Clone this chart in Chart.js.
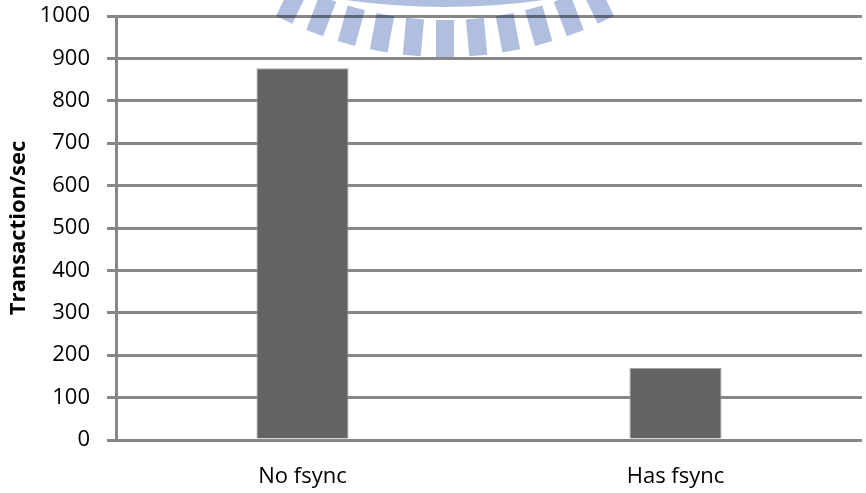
<!DOCTYPE html>
<html>
<head>
<meta charset="utf-8">
<title>Transaction/sec</title>
<script src="https://cdn.jsdelivr.net/npm/chart.js@4/dist/chart.umd.min.js"></script>
<style>
  html, body { margin: 0; padding: 0; background: #fff; }
  #wrap { width: 866px; height: 493px; position: relative; }
</style>
</head>
<body>
<div id="wrap"><canvas id="barChart"></canvas></div>
<script>
// categories and throughput values
const categories = ['No fsync', 'Has fsync'];
const tps = [877, 170];
const yMin = 0;
const yMax = 1000;
const yStep = 100;

const gridGray = '#878787';

// faint seal printed behind the top of the plot
const sealPlugin = {
    id: 'seal',
    afterDraw(chart) {
        const ctx = chart.ctx;
        const cx = 445, cy = -310;
        ctx.save();
        ctx.globalCompositeOperation = 'multiply';
        ctx.fillStyle = '#b0bfe0';
        for (let i = -5; i <= 5; i++) {
            const a = i * 5.2 * Math.PI / 180;
            ctx.save();
            ctx.translate(cx, cy);
            ctx.rotate(-a);
            ctx.fillRect(-9, 330, 18, 37);
            ctx.restore();
        }
        // inner ring
        const cy2 = -693;
        ctx.beginPath();
        ctx.arc(cx, cy2, 700, Math.PI / 2 - 0.3, Math.PI / 2 + 0.3);
        ctx.arc(cx, cy2, 684, Math.PI / 2 + 0.3, Math.PI / 2 - 0.3, true);
        ctx.closePath();
        ctx.fill();
        ctx.restore();
    }
};

const ctx = document.getElementById('barChart').getContext('2d');
new Chart(ctx, {
    type: 'bar',
    data: {
        labels: categories,
        datasets: [{
            data: tps,
            backgroundColor: '#636363',
            borderColor: '#a3a3a3',
            borderWidth: 1,
            categoryPercentage: 1,
            barPercentage: 0.247
        }]
    },
    options: {
        responsive: true,
        maintainAspectRatio: false,
        animation: false,
        layout: {
            autoPadding: false,
            padding: { top: 16, right: 4, left: 0, bottom: 0 }
        },
        plugins: {
            legend: { display: false },
            tooltip: { enabled: false }
        },
        scales: {
            x: {
                grid: { display: false, drawTicks: false },
                border: { display: false },
                ticks: {
                    color: '#000',
                    padding: 24,
                    font: { family: 'Open Sans', size: 22 }
                },
                afterFit(scale) { scale.height = 53; }
            },
            y: {
                min: yMin,
                max: yMax,
                ticks: {
                    stepSize: yStep,
                    color: '#000',
                    padding: 17,
                    font: { family: 'Open Sans', size: 22 },
                    callback: (v) => String(v)
                },
                grid: {
                    color: gridGray,
                    lineWidth: 3,
                    drawTicks: true,
                    tickLength: 9
                },
                border: { color: gridGray, width: 3 },
                title: {
                    display: true,
                    text: 'Transaction/sec',
                    color: '#000',
                    padding: { top: 6, bottom: 0 },
                    font: { family: 'Open Sans', size: 22, weight: 'bold' }
                },
                afterFit(scale) {
                    scale.width = 116;
                    scale.paddingTop = 0;
                    scale.paddingBottom = 0;
                }
            }
        }
    },
    plugins: [sealPlugin]
});
</script>
</body>
</html>
